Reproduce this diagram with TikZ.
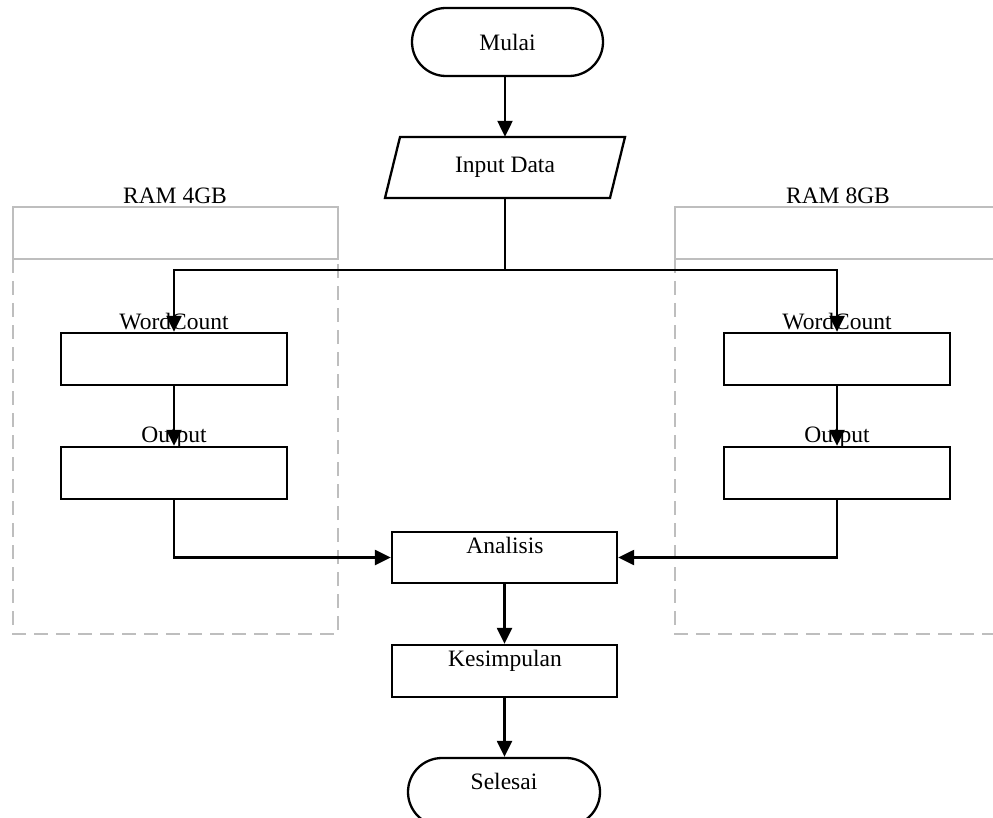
\documentclass[tikz,border=0pt]{standalone}
\usepackage{fontspec}
\setmainfont{Liberation Serif}
\usetikzlibrary{arrows.meta}
\definecolor{lanegray}{RGB}{190,190,190}
\begin{document}
\begin{tikzpicture}[x=1pt,y=-1pt,
  font=\fontsize{23.5}{28}\selectfont,
  flow/.style={line width=2.3pt, draw=black},
  arr/.style={flow, -{Triangle[length=16pt,width=15pt]}},
  boxnode/.style={draw=black, line width=2.3pt, minimum width=226pt, minimum height=52pt, inner sep=0pt},
  term/.style={draw=black, line width=2.3pt, minimum width=191pt, minimum height=68pt, rounded corners=34pt, inner sep=0pt},
  lanehead/.style={draw=lanegray, line width=1.6pt},
  lanebody/.style={draw=lanegray, line width=1.6pt, dash pattern=on 14pt off 8pt},
  txt/.style={inner sep=0pt, anchor=base}
]
\useasboundingbox (0,0) rectangle (993,818);

% swimlanes
\draw[lanehead] (13,207) rectangle (338,259);
\draw[lanebody] (13,259) -- (13,634) -- (338,634) -- (338,259);
\node[txt] (ram4) at (175,204) {RAM 4GB};
\draw[lanehead] (675,207) rectangle (1001,259);
\draw[lanebody] (675,259) -- (675,634) -- (1001,634) -- (1001,259);
\node[txt] (ram8) at (838,204) {RAM 8GB};

% start
\node[term] (mulai) at (507.5,42) {Mulai};

% input data (parallelogram)
\node[minimum width=210pt, minimum height=61pt, inner sep=0pt] (inp) at (505,167.5) {Input Data};
\draw[flow] (385,198) -- (400,137) -- (625,137) -- (610,198) -- cycle;

% left lane boxes
\node[boxnode] (wc1) at (174,359) {};
\node[txt] (wc1t) at (174,329) {WordCount};
\node[boxnode] (out1) at (174,473) {};
\node[txt] (out1t) at (174,442) {Output};

% right lane boxes
\node[boxnode] (wc2) at (837,359) {};
\node[txt] (wc2t) at (837,329) {WordCount};
\node[boxnode] (out2) at (837,473) {};
\node[txt] (out2t) at (837,442) {Output};

% analysis, conclusion
\node[boxnode, minimum width=225pt, minimum height=51pt] (ana) at (504.5,557.5) {};
\node[txt] (anat) at (505,553) {Analisis};
\node[boxnode, minimum width=225pt, minimum height=52pt] (kes) at (504.5,671) {};
\node[txt] (kest) at (505,666) {Kesimpulan};

% end
\node[term, minimum width=192pt] (sel) at (504,792) {};
\node[txt] (selt) at (504,789) {Selesai};

% connectors
\coordinate (split) at (505,270);
\draw[arr] (mulai.south -| inp.north) -- (inp.north);
\draw[flow] (inp.south) -- (split);
\draw[arr] (split) -| (wc1.north);
\draw[arr] (split) -| (wc2.north);
\draw[arr] (wc1.south) -- (out1.north);
\draw[arr] (wc2.south) -- (out2.north);
\draw[arr] (out1.south) |- (ana.west);
\draw[arr] (out2.south) |- (ana.east);
\draw[arr] (ana.south -| kes.north) -- (kes.north);
\draw[arr] (kes.south) -- (kes.south |- sel.north);
\end{tikzpicture}
\end{document}
